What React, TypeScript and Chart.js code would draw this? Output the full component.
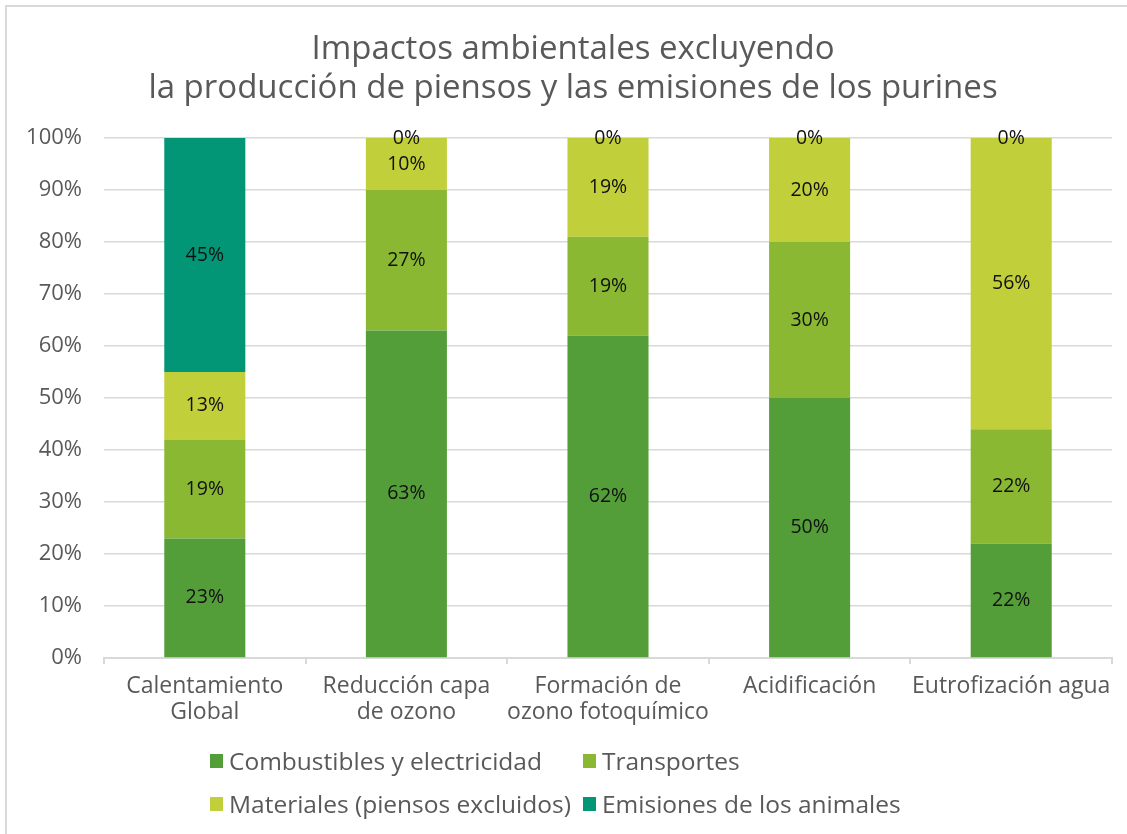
import React, { useEffect, useRef } from "react";
import { Chart, registerables } from "chart.js";

Chart.register(...registerables);

const titleLines = [
  "Impactos ambientales excluyendo",
  "la producción de piensos y las emisiones de los purines",
];
const categories = [
  ["Calentamiento", "Global"],
  ["Reducción capa", "de ozono"],
  ["Formación de", "ozono fotoquímico"],
  ["Acidificación"],
  ["Eutrofización agua"],
];
const seriesNames = [
  "Combustibles y electricidad",
  "Transportes",
  "Materiales (piensos excluidos)",
  "Emisiones de los animales",
];
const combustibles = [23, 63, 62, 50, 22];
const transportes = [19, 27, 19, 30, 22];
const materiales = [13, 10, 19, 20, 56];
const emisiones = [45, 0, 0, 0, 0];
const seriesColors = ["#549E39", "#8AB833", "#C0CF3A", "#029676"];
const yMin = 0;
const yMax = 100;
const yStep = 10;

const FONT = "'Open Sans', sans-serif";
const TEXT = "#595959";
const GRID = "#d9d9d9";

export default function App() {
  const ref = useRef<HTMLCanvasElement | null>(null);

  useEffect(() => {
    const canvas = ref.current;
    if (!canvas) return;

    const decor = {
      id: "decor",
      beforeDraw(chart: any) {
        const ctx = chart.ctx;
        ctx.save();
        ctx.fillStyle = "#ffffff";
        ctx.fillRect(0, 0, chart.width, chart.height);
        ctx.strokeStyle = GRID;
        ctx.lineWidth = 2;
        ctx.strokeRect(6, 6, chart.width + 50, chart.height + 50);
        // title
        ctx.fillStyle = TEXT;
        ctx.font = `33px ${FONT}`;
        ctx.textAlign = "center";
        ctx.textBaseline = "alphabetic";
        ctx.fillText(titleLines[0], 573, 59);
        ctx.fillText(titleLines[1], 573, 98);
        ctx.restore();
      },
      afterDatasetsDraw(chart: any) {
        const ctx = chart.ctx;
        ctx.save();
        ctx.fillStyle = "#111111";
        ctx.font = `19.5px ${FONT}`;
        ctx.textAlign = "center";
        ctx.textBaseline = "middle";
        chart.data.datasets.forEach((ds: any, i: number) => {
          const meta = chart.getDatasetMeta(i);
          meta.data.forEach((bar: any, j: number) => {
            const p = bar.getProps(["x", "y", "base"], true);
            ctx.fillText(`${ds.data[j]}%`, p.x, (p.y + p.base) / 2);
          });
        });
        ctx.restore();
      },
      afterDraw(chart: any) {
        const ctx = chart.ctx;
        ctx.save();
        ctx.font = `24.5px ${FONT}`;
        ctx.textAlign = "left";
        ctx.textBaseline = "alphabetic";
        const cols = [210, 583];
        const rows = [770, 813];
        chart.data.datasets.forEach((ds: any, i: number) => {
          const cx = cols[i % 2];
          const by = rows[Math.floor(i / 2)];
          ctx.fillStyle = ds.backgroundColor;
          ctx.fillRect(cx, by - 16, 13, 14);
          ctx.fillStyle = TEXT;
          ctx.fillText(ds.label, cx + 19, by);
        });
        ctx.restore();
      },
    };

    const chart = new Chart(canvas, {
      type: "bar",
      data: {
        labels: categories,
        datasets: [combustibles, transportes, materiales, emisiones].map((d, i) => ({
          label: seriesNames[i],
          data: d,
          backgroundColor: seriesColors[i],
          borderWidth: 0,
          barPercentage: 0.402,
          categoryPercentage: 1,
        })),
      },
      options: {
        responsive: false,
        animation: false,
        layout: { padding: { top: 138, right: 15, bottom: 0, left: 0 } },
        plugins: {
          legend: { display: false },
          title: { display: false },
          tooltip: { enabled: false },
        },
        scales: {
          x: {
            stacked: true,
            grid: {
              offset: true,
              drawOnChartArea: false,
              drawTicks: true,
              tickLength: 6,
              color: GRID,
              lineWidth: 2,
            },
            border: { display: true, color: GRID, width: 2 },
            ticks: {
              color: TEXT,
              font: { family: FONT, size: 23, lineHeight: 1.13 },
              padding: 9,
              maxRotation: 0,
              autoSkip: false,
            },
            afterFit(scale: any) {
              scale.height = 176;
            },
          },
          y: {
            stacked: true,
            min: yMin,
            max: yMax,
            grid: { color: GRID, lineWidth: 1.5, drawTicks: false },
            border: { display: false },
            ticks: {
              stepSize: yStep,
              color: TEXT,
              font: { family: FONT, size: 22 },
              padding: 22,
              callback: (v: any) => `${v}%`,
            },
            afterFit(scale: any) {
              scale.width = 104;
            },
          },
        },
      },
      plugins: [decor],
    });

    return () => chart.destroy();
  }, []);

  return (
    <div style={{ position: "absolute", left: 0, top: 0, width: 1127, height: 834 }}>
      <canvas ref={ref} width={1127} height={834} style={{ display: "block" }} />
    </div>
  );
}
